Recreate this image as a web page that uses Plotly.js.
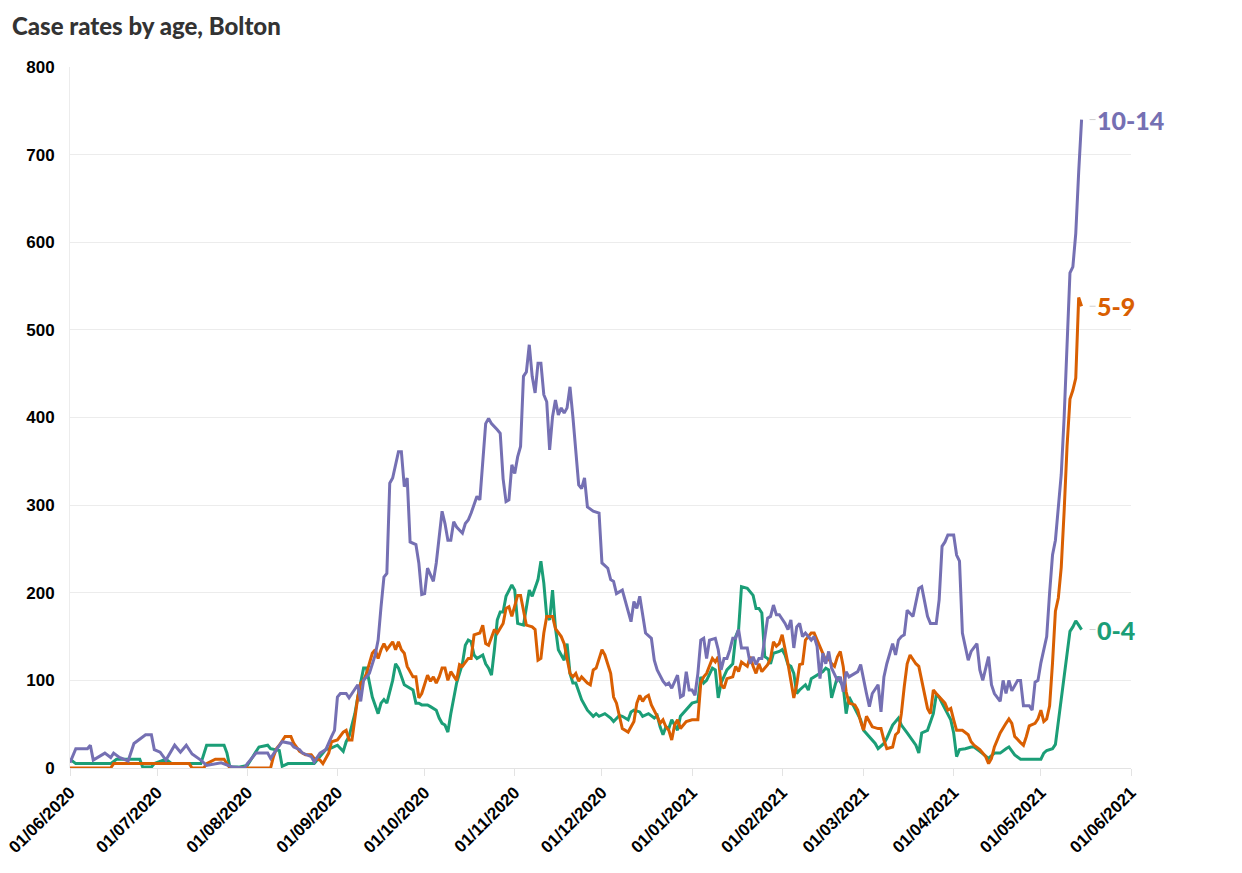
<!DOCTYPE html>
<html>
<head>
<meta charset="utf-8">
<script src="https://cdn.plot.ly/plotly-3.0.1.min.js"></script>
<style>
  html, body { margin: 0; padding: 0; background: #ffffff; }
  #chart { width: 1242px; height: 873px; }
</style>
</head>
<body>
<div id="chart"></div>
<script>
// Days counted from the start date below; values are case rates.
const START_DATE = "2020-06-01";
const seriesNames = ["0-4", "5-9", "10-14"];
const seriesColors = ["#1b9e77", "#d95f02", "#7570b3"];

// [day since START_DATE, rate]
const pts0to4 = [[0,10],[2,5],[14,5],[16,10],[24,10],[25,1],[28,1],[29,5],[33,10],[35,5],[45,5],[46,17],[47,26],[53,26],[54,17],[55,1],[58,1],[61,3],[63,13],[65,24],[68,26],[69,22],[72,20],[73,2],[75,5],[84,5],[85,9],[88,21],[90,23],[92,26],[94,19],[95,30],[96,36],[98,62],[99,81],[101,114],[102,114],[103,97],[104,81],[106,62],[107,74],[108,78],[109,74],[111,100],[112,119],[113,114],[115,95],[116,93],[118,89],[119,74],[120,74],[121,72],[123,72],[124,70],[126,66],[127,57],[128,51],[129,49],[130,41],[131,62],[132,78],[133,97],[135,119],[136,140],[137,146],[138,144],[139,129],[140,125],[142,129],[143,119],[144,114],[145,106],[146,135],[147,169],[148,178],[149,178],[150,196],[152,209],[153,203],[154,165],[156,163],[157,184],[158,203],[159,196],[160,205],[161,215],[162,236],[163,211],[164,173],[165,169],[166,203],[167,160],[168,135],[170,123],[171,142],[172,108],[173,97],[174,97],[176,78],[178,66],[180,59],[181,62],[182,59],[184,62],[186,57],[187,53],[189,60],[190,59],[192,55],[193,64],[194,66],[196,64],[197,59],[199,62],[201,57],[202,60],[203,47],[204,38],[205,47],[206,45],[207,55],[209,43],[210,59],[212,66],[214,74],[216,76],[217,104],[218,97],[219,100],[221,114],[222,112],[223,80],[224,97],[226,112],[228,119],[229,150],[230,158],[231,207],[233,205],[235,197],[236,182],[237,182],[238,177],[239,127],[240,125],[241,119],[242,131],[244,133],[245,135],[246,129],[247,118],[248,116],[249,108],[250,85],[251,89],[253,95],[254,89],[255,102],[257,106],[259,110],[260,114],[261,112],[262,80],[264,104],[266,93],[267,62],[268,81],[270,68],[272,55],[273,43],[275,36],[277,28],[278,22],[280,28],[281,34],[283,49],[285,57],[286,49],[288,40],[290,30],[291,26],[292,17],[293,40],[295,43],[297,62],[298,83],[299,81],[300,74],[302,62],[303,55],[304,40],[305,13],[306,21],[308,22],[310,24],[311,24],[313,19],[315,13],[316,11],[318,17],[320,17],[322,22],[323,24],[325,15],[327,10],[334,10],[335,17],[336,20],[338,22],[339,27],[340,54],[341,74],[342,104],[343,129],[344,156],[345,161],[346,168],[347,163],[348,158]];

const pts5to9 = [[0,0],[14,0],[15,5],[41,5],[42,0],[46,0],[47,5],[50,10],[53,10],[55,0],[69,0],[70,13],[71,22],[72,26],[74,36],[76,36],[77,28],[79,19],[81,15],[83,15],[84,11],[86,9],[87,5],[89,17],[90,30],[92,32],[94,41],[95,43],[96,32],[97,32],[99,81],[100,97],[101,100],[102,108],[104,131],[105,135],[106,125],[107,135],[108,142],[109,135],[111,144],[112,135],[113,144],[114,135],[115,131],[116,116],[118,104],[119,104],[120,80],[121,85],[123,106],[124,99],[125,104],[126,97],[127,104],[128,114],[129,114],[130,100],[131,110],[133,100],[134,118],[135,116],[137,125],[138,125],[139,152],[141,154],[142,163],[143,142],[144,140],[146,158],[147,154],[149,165],[150,182],[151,184],[152,173],[154,197],[155,197],[156,178],[157,163],[159,161],[160,158],[161,123],[162,125],[163,154],[164,173],[166,173],[167,159],[169,150],[170,142],[171,125],[172,108],[173,104],[174,108],[175,99],[176,104],[178,97],[179,95],[180,112],[181,114],[183,135],[184,129],[186,108],[187,81],[188,74],[189,59],[190,45],[192,41],[194,53],[195,74],[196,83],[197,76],[198,81],[199,83],[200,72],[202,59],[203,51],[204,55],[205,47],[206,43],[207,32],[208,49],[209,55],[210,45],[212,53],[214,55],[216,55],[217,97],[218,104],[219,108],[221,125],[222,121],[223,127],[224,95],[225,91],[226,102],[228,104],[229,116],[230,110],[231,121],[233,116],[234,127],[235,116],[236,108],[237,119],[238,110],[240,118],[241,125],[242,144],[243,139],[244,142],[245,152],[246,135],[247,119],[249,80],[250,95],[251,118],[252,119],[253,146],[255,154],[256,154],[257,146],[259,131],[260,123],[261,125],[262,119],[263,116],[264,127],[265,133],[266,116],[267,87],[268,74],[270,72],[271,66],[272,53],[273,43],[274,59],[276,47],[278,45],[279,45],[280,32],[281,22],[283,24],[284,38],[285,41],[286,62],[287,93],[288,119],[289,129],[291,119],[292,116],[293,99],[294,85],[295,68],[296,62],[297,89],[298,85],[300,78],[301,74],[302,66],[303,68],[304,55],[305,43],[307,43],[309,38],[310,30],[311,26],[313,21],[315,13],[316,5],[317,11],[318,24],[320,40],[322,51],[323,56],[324,51],[325,36],[327,29],[328,26],[329,36],[330,48],[332,51],[333,56],[334,66],[335,53],[336,56],[337,71],[338,120],[339,179],[340,194],[341,229],[342,293],[343,367],[344,421],[345,431],[346,445],[347,537],[348,527]];

const pts10to14 = [[0,6],[2,22],[6,22],[7,26],[8,9],[12,17],[14,12],[15,17],[17,12],[20,8],[22,28],[26,38],[28,38],[29,21],[31,18],[33,9],[36,26],[38,18],[40,26],[42,16],[45,9],[47,3],[52,6],[56,1],[60,0],[61,5],[63,13],[64,17],[68,17],[69,11],[71,21],[73,30],[76,28],[77,24],[79,21],[80,17],[83,13],[84,7],[86,17],[88,21],[90,36],[91,43],[92,81],[93,85],[95,85],[96,80],[97,85],[99,95],[100,76],[101,100],[102,104],[103,108],[105,129],[106,146],[107,184],[108,218],[109,222],[110,325],[111,331],[112,348],[113,361],[114,361],[115,321],[116,331],[117,258],[119,255],[120,234],[121,198],[122,199],[123,228],[125,213],[126,234],[128,293],[129,279],[130,260],[131,260],[132,281],[133,275],[135,268],[136,279],[137,283],[138,291],[140,310],[141,306],[142,355],[143,393],[144,399],[145,393],[147,386],[148,382],[149,330],[150,304],[151,306],[152,346],[153,336],[154,355],[155,367],[156,447],[157,452],[158,483],[159,447],[160,428],[161,462],[162,462],[163,426],[164,418],[165,363],[166,401],[167,420],[168,403],[169,411],[170,405],[171,411],[172,435],[173,401],[175,323],[176,319],[177,331],[178,298],[180,293],[182,291],[183,234],[185,228],[186,215],[187,213],[188,199],[190,203],[192,180],[193,167],[194,190],[195,182],[196,196],[197,177],[198,154],[200,148],[201,123],[202,112],[204,99],[205,95],[206,97],[207,91],[209,106],[210,81],[211,83],[212,110],[213,89],[214,89],[215,83],[216,108],[217,146],[218,148],[219,125],[220,146],[222,148],[223,135],[224,112],[225,125],[226,125],[227,135],[228,148],[229,148],[230,158],[231,137],[233,137],[234,119],[235,127],[236,118],[237,125],[238,125],[240,171],[241,173],[242,186],[243,175],[244,175],[246,165],[247,158],[248,169],[249,137],[250,161],[251,165],[252,150],[253,154],[255,146],[256,150],[257,139],[258,102],[259,131],[260,119],[261,133],[262,114],[264,100],[265,104],[266,87],[267,110],[268,104],[269,106],[271,110],[272,118],[273,100],[274,85],[275,70],[276,85],[278,95],[279,64],[280,104],[281,119],[283,142],[284,129],[285,146],[286,150],[287,152],[288,180],[290,173],[291,190],[292,205],[293,207],[295,173],[296,165],[298,165],[299,192],[300,253],[301,258],[302,266],[304,266],[305,243],[306,236],[307,154],[309,123],[310,133],[312,142],[313,112],[314,100],[316,127],[317,95],[318,85],[320,76],[321,100],[322,85],[323,100],[324,88],[326,100],[327,100],[328,71],[330,71],[331,66],[332,98],[333,100],[334,120],[335,135],[336,150],[337,200],[338,243],[339,260],[340,300],[341,335],[342,400],[343,480],[344,565],[345,572],[346,610],[347,680],[348,740]];

const xTickStart = "2020-06-01";
const xTickEnd = "2021-06-01";
const yTicks = [0, 100, 200, 300, 400, 500, 600, 700, 800];

const TITLE_FONT = "Source Sans Pro, Lato, sans-serif";
const TICK_FONT = "Liberation Sans, Arial, sans-serif";
const startMs = Date.parse(START_DATE + "T00:00:00Z");
function toDate(d) {
  return new Date(startMs + d * 86400000).toISOString().slice(0, 10);
}

const allPts = [pts0to4, pts5to9, pts10to14];
const traces = allPts.map((pts, i) => ({
  type: "scatter",
  mode: "lines",
  name: seriesNames[i],
  x: pts.map(p => toDate(p[0])),
  y: pts.map(p => p[1]),
  line: { color: seriesColors[i], width: 3 },
  hoverinfo: "skip",
  cliponaxis: false
}));

const annotations = allPts.map((pts, i) => {
  const last = pts[pts.length - 1];
  return {
    x: toDate(last[0]),
    y: last[1],
    xref: "x", yref: "y",
    text: seriesNames[i],
    showarrow: true,
    arrowhead: 0,
    arrowwidth: 1,
    arrowcolor: "#cfcfcf",
    axref: "pixel", ayref: "pixel",
    ax: 14, ay: 0,
    standoff: 8,
    xanchor: "left",
    yanchor: "middle",
    borderpad: 0,
    font: { family: TITLE_FONT, size: 25, color: seriesColors[i], weight: 900 }
  };
});

const layout = {
  width: 1242,
  height: 873,
  paper_bgcolor: "#ffffff",
  plot_bgcolor: "#ffffff",
  margin: { l: 70, r: 111, t: 67, b: 105 },
  showlegend: false,
  title: {
    text: "Case rates by age, Bolton",
    x: 12 / 1242, xanchor: "left", xref: "container",
    y: 1 - 27 / 873, yanchor: "middle", yref: "container",
    font: { family: TITLE_FONT, size: 24, color: "#333333", weight: 900 }
  },
  xaxis: {
    type: "date",
    range: [xTickStart, xTickEnd],
    tick0: xTickStart,
    dtick: "M1",
    tickformat: "%d/%m/%Y",
    tickangle: -45,
    showgrid: false,
    zeroline: false,
    showline: false,
    ticks: "outside",
    ticklen: 7,
    tickwidth: 1,
    tickcolor: "#e3e3e3",
    tickfont: { family: TICK_FONT, size: 17, color: "#000000", weight: 700 }
  },
  yaxis: {
    range: [0, 800],
    tickvals: yTicks,
    showgrid: true,
    gridcolor: "#ececec",
    gridwidth: 1,
    zeroline: true,
    zerolinecolor: "#e3e3e3",
    zerolinewidth: 1,
    showline: true,
    linecolor: "#ececec",
    linewidth: 1,
    ticks: "outside",
    ticklen: 11,
    tickcolor: "rgba(0,0,0,0)",
    tickfont: { family: TICK_FONT, size: 17, color: "#000000", weight: 700 }
  },
  annotations: annotations
};

Plotly.newPlot("chart", traces, layout, { staticPlot: true, displayModeBar: false });
</script>
</body>
</html>
